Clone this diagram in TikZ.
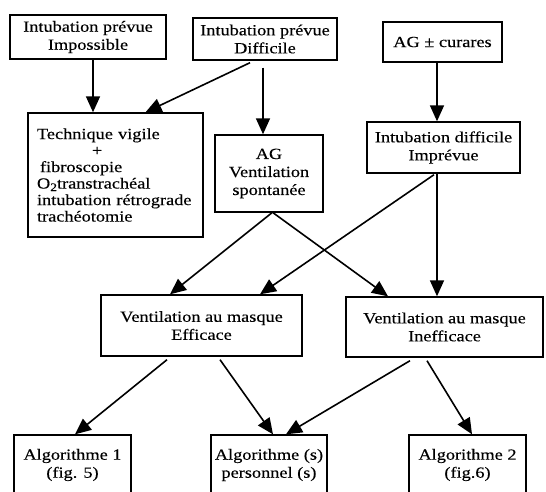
\documentclass[tikz,border=0pt]{standalone}
\usepackage{fontspec}
\setmainfont{Liberation Serif}[FakeStretch=1.18,FakeBold=0.3]
\usetikzlibrary{arrows.meta}
\begin{document}
\begin{tikzpicture}[x=1pt,y=-1pt,
  box/.style={draw, line width=1.4pt, rectangle, inner sep=0pt, align=center,
    font=\fontsize{15.5}{18}\selectfont},
  arr/.style={line width=1.6pt, -{Triangle[length=16pt,width=14pt]}}]
\useasboundingbox (0,0) rectangle (546,491);
\clip (0,0) rectangle (546,491);
% top row
\node[box, minimum width=156pt, minimum height=44pt] (A) at (88,37) {Intubation prévue\\Impossible};
\node[box, minimum width=144pt, minimum height=42pt] (B) at (265,39) {Intubation prévue\\Difficile};
\node[box, minimum width=119pt, minimum height=40pt] (C) at (442.5,42) {AG ± curares};
% second row
\node[box, minimum width=175pt, minimum height=124pt, text width=157pt, inner xsep=9pt, align=left,
  font=\fontsize{15.5}{16.5}\selectfont] (D) at (115.5,175)
  {Technique vigile\\\hspace*{55pt}+\\\hspace*{3pt}fibroscopie\\O\raisebox{-2.5pt}{\fontsize{11.5}{11.5}\selectfont 2}transtrachéal\\intubation rétrograde\\trachéotomie};
\node[box, minimum width=108pt, minimum height=77pt] (E) at (269,173.5) {AG\\Ventilation\\spontanée};
\node[box, minimum width=153pt, minimum height=51pt] (F) at (443.5,147.5) {Intubation difficile\\Imprévue};
% third row
\node[box, minimum width=201pt, minimum height=61pt] (G) at (201.5,325.5) {Ventilation au masque\\Efficace};
\node[box, minimum width=197pt, minimum height=60pt] (H) at (444.5,327) {Ventilation au masque\\Inefficace};
% bottom row (open at the bottom edge of the picture)
\node[box, minimum width=117pt, minimum height=60pt] (I) at (72.5,465) {Algorithme 1\\(fig. 5)};
\node[box, minimum width=116pt, minimum height=60pt] (J) at (269,465) {Algorithme (s)\\personnel (s)};
\node[box, minimum width=117pt, minimum height=60pt] (K) at (467.5,465) {Algorithme 2\\(fig.6)};
% connectors
\draw[arr] ([xshift=5pt]A.south) -- ([xshift=-22.5pt]D.north);
\draw[arr] ([xshift=-15pt,yshift=-2pt]B.south) -- ([xshift=30pt]D.north);
\draw[arr] ([xshift=-2pt,yshift=-7pt]B.south) -- ([xshift=-6pt]E.north);
\draw[arr] ([xshift=-5.5pt]C.south) -- ([xshift=-6.5pt]F.north);
\draw[arr] ([xshift=3pt]E.south) -- ([xshift=-31.5pt]G.north);
\draw[arr] ([xshift=4pt]E.south) -- ([xshift=-56.5pt]H.north);
\draw[arr] ([xshift=-9.5pt,yshift=-1pt]F.south) -- ([xshift=58.5pt]G.north);
\draw[arr] ([xshift=-6.5pt]F.south) -- ([xshift=-7.5pt]H.north);
\draw[arr] ([xshift=-34.5pt,yshift=-3pt]G.south) -- ([xshift=2.5pt]I.north);
\draw[arr] ([xshift=18.5pt,yshift=-3pt]G.south) -- ([xshift=4pt]J.north);
\draw[arr] ([xshift=-34.5pt,yshift=-3pt]H.south) -- ([xshift=17pt]J.north);
\draw[arr] ([xshift=-17.5pt,yshift=-3pt]H.south) -- ([xshift=4.5pt]K.north);
\end{tikzpicture}
\end{document}
